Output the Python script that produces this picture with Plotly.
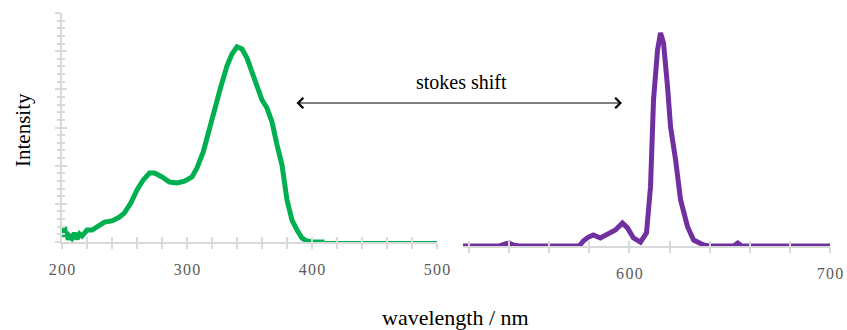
import plotly.graph_objects as go

# ---------------- data ----------------
green_wl = [200, 201, 202, 203, 204, 205, 206, 208, 210, 212, 214, 216, 218, 220, 224, 228, 234, 240,
            246, 250, 255, 260, 265, 270, 274, 280, 286, 292, 298, 304, 308, 313, 318, 322, 327, 332,
            336, 340, 344, 348, 352, 356, 360, 364, 368, 372, 376, 380, 384, 388, 392, 396, 400, 410]
green_int = [0.022, 0.039, 0.066, 0.026, 0.044, 0.009, 0.031, 0.017, 0.039, 0.013, 0.035, 0.026, 0.044,
             0.052, 0.052, 0.066, 0.087, 0.092, 0.109, 0.127, 0.170, 0.227, 0.271, 0.301, 0.301, 0.284,
             0.262, 0.258, 0.266, 0.284, 0.323, 0.393, 0.498, 0.585, 0.677, 0.769, 0.821, 0.852, 0.843,
             0.803, 0.742, 0.681, 0.620, 0.585, 0.524, 0.424, 0.336, 0.183, 0.096, 0.052, 0.017, 0.004,
             0.0, 0.0]
green_tail_wl = [410, 500]
green_tail_int = [0.0, 0.0]

purple_wl = [517, 535, 538, 540, 542, 545, 575, 577, 579.5, 582, 585.5, 590.5, 593, 596.5, 599, 602,
             605.5, 608.5, 610.5, 612, 614, 615.5, 617, 619, 620.5, 623, 625.5, 629, 632, 637, 640,
             652, 654, 656, 700]
purple_int = [0.0, 0.0, 0.009, 0.013, 0.004, 0.0, 0.0, 0.022, 0.039, 0.048, 0.035, 0.057, 0.070, 0.100,
              0.079, 0.035, 0.017, 0.057, 0.258, 0.638, 0.856, 0.930, 0.886, 0.694, 0.520, 0.376,
              0.201, 0.083, 0.026, 0.004, 0.0, 0.0, 0.013, 0.0, 0.0]

left_ticks = list(range(200, 501, 20))
left_labels = ["\u200a".join(str(v)) if v % 100 == 0 else "" for v in left_ticks]
right_ticks = list(range(520, 701, 20))
right_labels = ["\u200a".join(str(v)) if v % 100 == 0 else "" for v in right_ticks]

# ---------------- layout helpers ----------------
W, H = 847, 330
def px_x(p):
    return p / W
def px_y(p):
    return 1 - p / H

GREEN = "#00b050"
PURPLE = "#7030a0"
AXIS = "#d9d9d9"
SERIF = "Liberation Serif"
TICKFONT = dict(family=SERIF, size=16, color="#5a5a5a")

fig = go.Figure()
fig.add_trace(go.Scatter(x=green_wl, y=green_int, mode="lines",
                         line=dict(color=GREEN, width=5), xaxis="x", yaxis="y",
                         showlegend=False, hoverinfo="skip"))
fig.add_trace(go.Scatter(x=green_tail_wl, y=green_tail_int, mode="lines",
                         line=dict(color=GREEN, width=2), xaxis="x", yaxis="y",
                         showlegend=False, hoverinfo="skip"))
fig.add_trace(go.Scatter(x=purple_wl, y=purple_int, mode="lines",
                         line=dict(color=PURPLE, width=5), xaxis="x2", yaxis="y2",
                         showlegend=False, hoverinfo="skip"))
# invisible traces to realise the overlay (crossing tick) axes
fig.add_trace(go.Scatter(x=[200], y=[0], mode="markers", marker=dict(opacity=0),
                         xaxis="x3", yaxis="y3", showlegend=False, hoverinfo="skip"))
fig.add_trace(go.Scatter(x=[600], y=[0], mode="markers", marker=dict(opacity=0),
                         xaxis="x4", yaxis="y2", showlegend=False, hoverinfo="skip"))

left_dom = [px_x(62), px_x(437)]
right_dom = [px_x(463), px_x(830)]

common_x = dict(showgrid=False, zeroline=False, tickcolor=AXIS, tickwidth=1.5, ticklen=5,
                tickfont=TICKFONT, fixedrange=True, automargin=False)
common_y = dict(showgrid=False, zeroline=False, tickcolor=AXIS, tickwidth=1.5, ticklen=5,
                tickmode="linear", tick0=0, dtick=1/6, showticklabels=False,
                fixedrange=True, automargin=False, range=[0, 1])

fig.update_layout(
    template="none",
    width=W, height=H,
    margin=dict(l=0, r=0, t=0, b=0, pad=0),
    paper_bgcolor="white", plot_bgcolor="rgba(0,0,0,0)",
    xaxis=dict(domain=left_dom, range=[200, 500], anchor="y", showline=True,
               linecolor=AXIS, linewidth=1.5, ticks="outside", tickvals=left_ticks,
               ticktext=left_labels, ticklabelstandoff=7, **common_x),
    xaxis3=dict(overlaying="x", range=[200, 500], anchor="y", showline=False,
                ticks="inside", tickvals=left_ticks, showticklabels=False, **common_x),
    yaxis=dict(domain=[px_y(242), px_y(13)], anchor="x", showline=True,
               linecolor=AXIS, linewidth=1.5, ticks="outside",
               minor=dict(ticks="outside", ticklen=3, tickcolor=AXIS, dtick=1/30, tick0=0),
               **common_y),
    yaxis3=dict(overlaying="y", anchor="x", side="left", showline=False, ticks="inside",
                minor=dict(ticks="inside", ticklen=3, tickcolor=AXIS, dtick=1/30, tick0=0),
                **common_y),
    xaxis2=dict(domain=right_dom, range=[517, 700], anchor="y2", showline=True,
                linecolor=AXIS, linewidth=1.5, ticks="outside", tickvals=right_ticks,
                ticktext=right_labels, ticklabelstandoff=7, **common_x),
    xaxis4=dict(overlaying="x2", range=[517, 700], anchor="y2", showline=False,
                ticks="inside", tickvals=right_ticks, showticklabels=False, **common_x),
    yaxis2=dict(domain=[px_y(246), px_y(17)], range=[0, 1], anchor="x2", visible=False,
                fixedrange=True, automargin=False),
    annotations=[
        dict(text="Intensity", xref="paper", yref="paper", x=px_x(23), y=px_y(130),
             xanchor="center", yanchor="middle",
             textangle=-90, showarrow=False, font=dict(family=SERIF, size=21, color="black")),
        dict(text="wavelength / nm", xref="paper", yref="paper", x=px_x(455), y=px_y(332),
             xanchor="center", yanchor="bottom",
             showarrow=False, font=dict(family=SERIF, size=22, color="black")),
        dict(text="stokes shift", xref="paper", yref="paper", x=px_x(461), y=px_y(82),
             xanchor="center", yanchor="middle",
             showarrow=False, font=dict(family=SERIF, size=20, color="black")),
        dict(text="", xref="paper", yref="paper", x=px_x(622), y=px_y(103),
             axref="pixel", ayref="pixel", ax=-(622 - 295), ay=0,
             showarrow=True, arrowhead=4, startarrowhead=4, arrowside="end+start",
             arrowsize=2, startarrowsize=2, arrowwidth=1, arrowcolor="black"),
    ],
)

fig.write_html("out.html", post_script="document.body.style.margin='0';",
               config={"displayModeBar": False})
